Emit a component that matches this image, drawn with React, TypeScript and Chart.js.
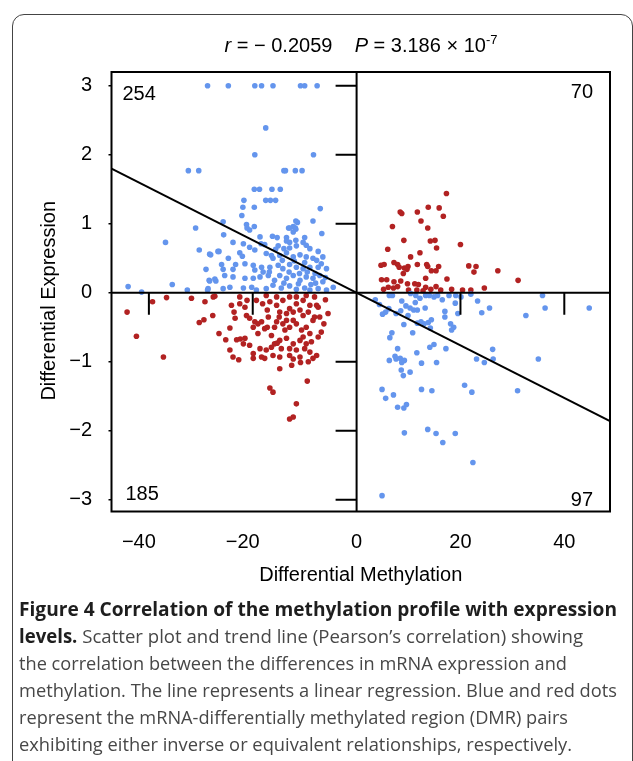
import React, { useEffect, useRef } from "react";
import { Chart, registerables } from "chart.js";

Chart.register(...registerables);

// ---------------- data ----------------
const xTicks = [-40, -20, 0, 20, 40];
const yTicks = [-3, -2, -1, 0, 1, 2, 3];
const xRange = [-47.2, 48.8];
const yRange = [-3.17, 3.2];
const quadrantCounts = ["254", "70", "185", "97"];
const regressionX = [-47.2, 48.8];
const regressionY = [1.8, -1.86];
const statR = "\u2212 0.2059";
const statP = "3.186 \u00d7 10";
const statPExp = "-7";
const xTitle = "Differential Methylation";
const yTitle = "Differential Expression";

// inverse relationship (blue), hypomethylated & up-regulated
const blueUpperLeft: [number, number][] = [
  [-28.7, 3], [-24.7, 3], [-19.6, 3], [-18.3, 3], [-16.1, 3], [-10.8, 3], [-10.0, 3], [-7.6, 3],
  [-17.5, 2.39], [-19.6, 2.0], [-8.3, 2.0],
  [-32.4, 1.77], [-30.4, 1.77], [-14.0, 1.77], [-13.7, 1.77], [-11.8, 1.77], [-10.5, 1.77],
  [-19.7, 1.5], [-18.7, 1.5], [-16.3, 1.5], [-14.7, 1.5],
  [-21.7, 1.34], [-17.5, 1.34], [-16.6, 1.34], [-15.6, 1.34],
  [-21.9, 1.24], [-19.7, 1.24], [-7.0, 1.22], [-22.1, 1.12],
  [-25.7, 1.03], [-8.4, 1.04], [-11.7, 1.04], [-11.4, 1.02],
  [-21.2, 0.99], [-19.7, 0.96], [-21.1, 0.94], [-13.1, 0.94], [-11.8, 0.94], [-12.2, 0.96], [-31.0, 0.94],
  [-25.6, 0.84], [-20.6, 0.91], [-12.9, 0.94], [-11.7, 0.92], [-12.2, 0.88], [-6.7, 0.86],
  [-18.6, 0.81], [-16.2, 0.82], [-15.3, 0.8], [-13.5, 0.8], [-11.7, 0.76], [-10.0, 0.8], [-10.3, 0.73], [-12.9, 0.73], [-13.5, 0.75],
  [-23.8, 0.73], [-21.8, 0.71], [-20.6, 0.66], [-18.4, 0.71], [-17.7, 0.7], [-15.1, 0.68], [-15.6, 0.63], [-14.0, 0.64],
  [-12.9, 0.65], [-11.6, 0.68], [-9.7, 0.69], [-9.0, 0.64], [-7.4, 0.6], [-6.5, 0.52],
  [-30.3, 0.62], [-28.1, 0.55], [-26.5, 0.6], [-24.7, 0.5], [-22.5, 0.58], [-22.0, 0.53], [-19.6, 0.62], [-17.4, 0.57],
  [-16.4, 0.54], [-16.1, 0.5], [-14.8, 0.54], [-13.5, 0.58], [-12.2, 0.52], [-10.9, 0.55], [-9.7, 0.52], [-8.4, 0.5], [-7.7, 0.47],
  [-29.0, 0.34], [-26.0, 0.41], [-25.7, 0.34], [-23.8, 0.34], [-23.3, 0.41], [-21.5, 0.42], [-19.9, 0.4], [-18.3, 0.37],
  [-19.6, 0.33], [-18.0, 0.3], [-16.7, 0.37], [-15.1, 0.4], [-14.2, 0.35], [-12.9, 0.41], [-11.6, 0.37], [-10.3, 0.35],
  [-9.0, 0.37], [-7.4, 0.37], [-5.8, 0.35],
  [-28.4, 0.18], [-27.3, 0.2], [-25.4, 0.25], [-23.8, 0.23], [-21.5, 0.21], [-19.9, 0.21], [-18.6, 0.23], [-17.0, 0.25],
  [-15.8, 0.18], [-14.8, 0.25], [-13.5, 0.21], [-12.2, 0.25], [-10.9, 0.18], [-9.7, 0.23], [-8.4, 0.21], [-7.1, 0.25], [-6.5, 0.16],
  [-28.6, 0.06], [-25.7, 0.06], [-24.4, 0.08], [-21.8, 0.07], [-20.2, 0.08], [-19.3, 0.04], [-17.4, 0.06], [-16.1, 0.11],
  [-14.5, 0.07], [-12.9, 0.1], [-11.6, 0.05], [-10.0, 0.07], [-9.0, 0.04], [-7.4, 0.06], [-5.8, 0.04], [-4.5, 0.08],
  [-44.0, 0.09], [-41.4, 0.01], [-35.5, 0.12], [-36.8, 0.73], [-32.6, 0.04], [-28.7, 0.04], [-28.3, 0.56], [-26.7, 0.6],
  [-28.3, 0.17], [-27.1, 0.17],
  [-13.0, 0.3], [-11.0, 0.28], [-9.5, 0.3], [-8.0, 0.28], [-6.8, 0.42], [-14.0, 0.14], [-11.2, 0.13], [-8.8, 0.12],
  [-6.0, 0.22], [-16.8, 0.3], [-10.0, 0.44], [-12.0, 0.46], [-14.3, 0.47], [-7.9, 0.14],
];

// inverse relationship (blue), hypermethylated & down-regulated
const blueLowerRight: [number, number][] = [
  [6.3, -0.04], [6.9, -0.04], [10.4, -0.01], [11.4, -0.04], [13.3, -0.04], [14.0, -0.04], [14.9, -0.06], [15.6, -0.04],
  [17.8, -0.04], [19.1, -0.04], [20.1, -0.06],
  [8.7, -0.12], [11.3, -0.14], [19.0, -0.15], [23.3, -0.12], [25.6, -0.22], [24.1, -0.29], [19.5, -0.3], [17.0, -0.27],
  [17.0, -0.35], [13.2, -0.22],
  [9.5, -0.19], [10.3, -0.22], [11.0, -0.25], [11.7, -0.25], [6.2, -0.23], [5.6, -0.28], [5.0, -0.31], [8.5, -0.26],
  [9.9, -0.33], [7.6, -0.3],
  [9.1, -0.46], [10.8, -0.58], [11.7, -0.44], [12.4, -0.42], [13.0, -0.45], [13.8, -0.43], [14.4, -0.39], [14.2, -0.51],
  [18.1, -0.45], [18.7, -0.5], [18.3, -0.54],
  [6.8, -0.58], [6.4, -0.65], [7.9, -0.81], [11.6, -0.87], [14.1, -0.79], [14.9, -0.75], [17.2, -0.81],
  [6.3, -0.98], [7.4, -0.92], [7.6, -0.96], [8.4, -0.95], [9.2, -0.98], [8.7, -1.01], [12.5, -1.02], [15.4, -1.01],
  [8.6, -1.12], [9.0, -1.2], [10.3, -1.15], [4.9, -1.4], [5.6, -1.53], [7.1, -1.48], [12.5, -1.4], [14.5, -1.42],
  [20.8, -1.34], [22.2, -1.44],
  [23.1, -0.96], [24.6, -1.01], [26.2, -0.82], [26.3, -0.96],
  [35.8, -0.04], [36.3, -0.22], [44.8, -0.22], [32.6, -0.33], [35.0, -0.96], [31.0, -1.42],
  [9.2, -2.03], [13.7, -1.98], [15.3, -2.04], [16.6, -2.17], [19.0, -2.04], [22.4, -2.46], [4.9, -2.94],
  [7.9, -1.66], [9.1, -1.67], [9.6, -1.62],
  [3.6, -0.1], [4.4, -0.17], [12.2, -0.08], [16.5, -0.1], [22.0, -0.02],
];

// equivalent relationship (red), hypermethylated & up-regulated
const redUpperRight: [number, number][] = [
  [17.3, 1.44], [13.8, 1.24], [15.9, 1.23], [8.4, 1.17], [8.7, 1.15], [11.7, 1.17], [16.7, 1.11], [6.9, 0.96],
  [12.4, 1.04], [13.7, 0.94], [9.1, 0.76], [14.2, 0.75], [15.1, 0.76], [15.4, 0.65], [6.0, 0.63], [20.0, 0.7],
  [12.2, 0.58], [10.4, 0.52],
  [4.7, 0.4], [5.3, 0.41], [7.2, 0.44], [7.9, 0.41], [8.2, 0.37], [9.2, 0.36], [9.9, 0.38], [9.7, 0.34], [9.0, 0.28],
  [11.7, 0.41], [13.5, 0.41], [13.7, 0.38], [15.8, 0.38], [14.4, 0.32], [15.3, 0.32], [21.6, 0.39], [23.0, 0.38],
  [22.6, 0.3], [27.2, 0.32],
  [4.8, 0.19], [5.8, 0.19], [7.2, 0.16], [8.5, 0.17], [9.8, 0.13], [11.2, 0.13], [11.9, 0.12], [13.3, 0.21],
  [15.3, 0.09], [17.4, 0.2], [6.1, 0.08], [7.1, 0.07], [7.9, 0.09], [11.6, 0.04], [13.3, 0.08], [14.3, 0.05],
  [18.3, 0.05], [20.4, 0.04], [22.0, 0.04], [24.6, 0.07], [31.1, 0.18],
  [10.0, 0.04], [12.8, 0.03], [16.2, 0.04], [5.2, 0.05],
];

// equivalent relationship (red), hypomethylated & down-regulated
const redLowerLeft: [number, number][] = [
  [-31.8, -0.08], [-29.2, -0.13], [-27.6, -0.06], [-27.7, -0.33], [-30.3, -0.43], [-29.4, -0.39], [-26.5, -0.59],
  [-25.2, -0.68], [-24.4, -0.51], [-24.1, -0.18], [-23.6, -0.28], [-23.4, -0.37], [-23.1, -0.68], [-22.4, -0.67], [-21.8, -0.74],
  [-21.5, -0.21], [-21.2, -0.33], [-20.6, -0.37], [-21.1, -0.11], [-19.6, -0.42], [-19.9, -0.5], [-19.0, -0.45],
  [-18.3, -0.42], [-19.0, -0.59], [-17.7, -0.52], [-18.1, -0.16], [-17.2, -0.25], [-17.0, -0.35], [-17.2, -0.5],
  [-16.4, -0.62], [-15.8, -0.5], [-15.4, -0.42], [-14.9, -0.35], [-14.2, -0.45], [-13.8, -0.54], [-13.5, -0.4],
  [-12.9, -0.5], [-12.2, -0.4], [-11.6, -0.45], [-10.6, -0.54], [-10.3, -0.64], [-9.7, -0.5], [-9.0, -0.59],
  [-8.4, -0.4], [-8.1, -0.35], [-7.1, -0.35], [-6.8, -0.57], [-7.4, -0.64], [-8.7, -0.71], [-9.7, -0.74],
  [-10.9, -0.69], [-12.2, -0.74], [-13.5, -0.66], [-14.8, -0.69], [-15.8, -0.74], [-16.4, -0.79], [-17.4, -0.83],
  [-18.6, -0.81], [-19.9, -0.88], [-20.6, -0.76], [-21.5, -0.66],
  [-22.5, -0.06], [-22.5, -0.16], [-19.3, -0.11], [-16.7, -0.13], [-15.4, -0.18], [-14.2, -0.11], [-12.9, -0.23],
  [-11.6, -0.16], [-10.9, -0.25], [-10.3, -0.11], [-9.0, -0.18], [-8.1, -0.06], [-7.4, -0.21], [-12.9, -0.06],
  [-15.4, -0.06], [-17.4, -0.04], [-11.6, -0.06], [-9.7, -0.04], [-7.7, -0.18], [-14.8, -0.28], [-13.5, -0.3],
  [-12.2, -0.28], [-10.3, -0.33], [-9.3, -0.28],
  [-15.3, -0.73], [-14.5, -0.81], [-12.9, -0.81], [-11.6, -0.83], [-10.0, -0.81], [-9.0, -0.86], [-7.7, -0.91],
  [-24.4, -0.83], [-23.8, -0.93], [-16.1, -0.91], [-18.3, -0.93], [-14.8, -0.93], [-10.9, -0.93], [-12.9, -0.91],
  [-22.7, -0.97], [-19.9, -0.95], [-17.7, -0.95], [-14.8, -1.1], [-12.5, -1.05], [-12.2, -0.96], [-10.8, -1.01],
  [-9.3, -1.0], [-8.4, -0.95], [-9.5, -1.28], [-16.7, -1.38], [-16.1, -1.44], [-11.6, -1.61], [-12.9, -1.83], [-12.2, -1.8],
  [-44.2, -0.28], [-42.4, -0.63], [-39.3, -0.13], [-37.2, -0.93], [-36.6, -0.07], [-27.3, -0.05],
  [-6.0, -0.1], [-5.5, -0.3], [-6.3, -0.45],
];

const captionLines = [
  { bold: "Figure 4 Correlation of the methylation profile with expression", text: "" },
  { bold: "levels.", text: " Scatter plot and trend line (Pearson\u2019s correlation) showing" },
  { bold: "", text: "the correlation between the differences in mRNA expression and" },
  { bold: "", text: "methylation. The line represents a linear regression. Blue and red dots" },
  { bold: "", text: "represent the mRNA-differentially methylated region (DMR) pairs" },
  { bold: "", text: "exhibiting either inverse or equivalent relationships, respectively." },
];

// ---------------- styling / layout ----------------
const FONT = "'Liberation Sans', Arial, Helvetica, sans-serif";
const BLUE = "#6495ED";
const RED = "#B22222";
const captionWidths = [598, 564, 548, 598, 549, 553];

const toPts = (arr: [number, number][]) => arr.map(([x, y]) => ({ x, y }));
const fmt = (v: number) => (v < 0 ? "\u2212" + Math.abs(v) : String(v));

const axesPlugin = {
  id: "centerAxes",
  afterDatasetsDraw(chart: any) {
    const { ctx, chartArea: a, scales } = chart;
    const xs = scales.x;
    const ys = scales.y;
    const x0 = xs.getPixelForValue(0);
    const y0 = ys.getPixelForValue(0);
    ctx.save();
    ctx.strokeStyle = "#000";
    ctx.lineWidth = 2;
    ctx.beginPath();
    ctx.moveTo(x0, a.top);
    ctx.lineTo(x0, a.bottom);
    ctx.moveTo(a.left, y0);
    ctx.lineTo(a.right, y0);
    for (const t of yTicks) {
      const py = ys.getPixelForValue(t);
      ctx.moveTo(x0 - 21, py);
      ctx.lineTo(x0, py);
    }
    for (const t of xTicks) {
      const px = xs.getPixelForValue(t);
      ctx.moveTo(px, y0);
      ctx.lineTo(px, y0 + 22);
    }
    ctx.stroke();
    ctx.strokeRect(a.left, a.top, a.right - a.left, a.bottom - a.top);
    ctx.fillStyle = "#000";
    ctx.font = `20px ${FONT}`;
    ctx.textBaseline = "alphabetic";
    ctx.textAlign = "left";
    ctx.fillText(quadrantCounts[0], a.left + 11, a.top + 28);
    ctx.textAlign = "right";
    ctx.fillText(quadrantCounts[1], a.right - 17, a.top + 26);
    ctx.textAlign = "left";
    ctx.fillText(quadrantCounts[2], a.left + 14, a.bottom - 12);
    ctx.textAlign = "right";
    ctx.fillText(quadrantCounts[3], a.right - 17, a.bottom - 6);
    ctx.restore();
  },
};

export default function App() {
  const canvasRef = useRef<HTMLCanvasElement | null>(null);
  const lineRefs = useRef<(HTMLDivElement | null)[]>([]);

  useEffect(() => {
    const canvas = canvasRef.current;
    if (!canvas) return;
    const pointDs = (data: [number, number][], color: string) => ({
      type: "scatter" as const,
      data: toPts(data),
      backgroundColor: color,
      borderWidth: 0,
      pointRadius: 2.8,
      pointHoverRadius: 2.8,
      order: 1,
    });
    const chart = new Chart(canvas, {
      type: "scatter",
      data: {
        datasets: [
          {
            type: "line",
            data: regressionX.map((x, i) => ({ x, y: regressionY[i] })),
            borderColor: "#000",
            borderWidth: 2,
            pointRadius: 0,
            fill: false,
            order: 0,
          } as any,
          pointDs(blueUpperLeft, BLUE),
          pointDs(blueLowerRight, BLUE),
          pointDs(redUpperRight, RED),
          pointDs(redLowerLeft, RED),
        ],
      },
      options: {
        animation: false,
        responsive: false,
        events: [],
        layout: { padding: { left: 0, right: 23, top: 72, bottom: 0 } },
        plugins: { legend: { display: false }, tooltip: { enabled: false } },
        scales: {
          x: {
            type: "linear",
            min: xRange[0],
            max: xRange[1],
            afterBuildTicks: (s: any) => {
              s.ticks = xTicks.map((v) => ({ value: v }));
            },
            afterFit: (s: any) => {
              s.height = 88.5;
            },
            grid: { display: false, drawTicks: false },
            border: { display: false },
            ticks: {
              padding: 19,
              color: "#000",
              font: { family: FONT, size: 20 },
              maxRotation: 0,
              callback: (v: any) => (v < 0 ? fmt(v) + "\u2003" : fmt(v)),
            },
            title: {
              display: true,
              text: xTitle,
              color: "#000",
              font: { family: FONT, size: 20 },
              padding: { top: 0, bottom: 13 },
            },
          },
          y: {
            type: "linear",
            min: yRange[0],
            max: yRange[1],
            afterBuildTicks: (s: any) => {
              s.ticks = yTicks.map((v) => ({ value: v }));
            },
            afterFit: (s: any) => {
              s.width = 111.5;
            },
            grid: {
              display: true,
              drawOnChartArea: false,
              drawTicks: true,
              tickLength: 3,
              color: "#000",
              lineWidth: 1.5,
            },
            border: { display: false },
            ticks: {
              padding: 16.5,
              color: "#000",
              font: { family: FONT, size: 20 },
              callback: (v: any) => fmt(v),
            },
            title: {
              display: true,
              text: yTitle + "\u2002\u2009\u2009",
              color: "#000",
              font: { family: FONT, size: 20 },
              padding: { top: 37.5, bottom: 0 },
            },
          },
        },
      },
      plugins: [axesPlugin],
    } as any);

    const fit = () => {
      lineRefs.current.forEach((el, i) => {
        if (!el) return;
        el.style.transform = "none";
        const w = el.getBoundingClientRect().width;
        if (w > 0) el.style.transform = `scaleX(${captionWidths[i] / w})`;
      });
    };
    fit();
    (document as any).fonts?.ready?.then(fit);

    return () => chart.destroy();
  }, []);

  return (
    <div
      style={{
        position: "absolute",
        left: 0,
        top: 0,
        width: 633,
        height: 761,
        overflow: "hidden",
        background: "#fff",
      }}
    >
      <div
        style={{
          position: "absolute",
          left: 12,
          top: 14,
          width: 621,
          height: 800,
          boxSizing: "border-box",
          border: "1.5px solid #444",
          borderRadius: 12,
        }}
      />
      <canvas
        ref={canvasRef}
        width={633}
        height={600}
        style={{ position: "absolute", left: 0, top: 0, width: 633, height: 600 }}
      />
      <div
        style={{
          position: "absolute",
          left: 161,
          top: 33,
          width: 400,
          textAlign: "center",
          fontFamily: FONT,
          fontSize: 20,
          lineHeight: "24px",
          color: "#000",
          whiteSpace: "nowrap",
        }}
      >
        <i>r</i> = {statR}
        {"\u00a0\u00a0\u00a0\u00a0"}
        <i>P</i> = {statP}
        <span style={{ fontSize: 13, position: "relative", top: -8 }}>{statPExp}</span>
      </div>
      <div
        style={{
          position: "absolute",
          left: 19,
          top: 596,
          fontFamily: "'Open Sans', 'Noto Sans', sans-serif",
          fontSize: 19,
          lineHeight: "27px",
          color: "#474747",
        }}
      >
        {captionLines.map((ln, i) => (
          <div key={i} style={{ height: 27 }}>
            <div
              ref={(el) => {
                lineRefs.current[i] = el;
              }}
              style={{ display: "inline-block", whiteSpace: "nowrap", transformOrigin: "0 0" }}
            >
              {ln.bold && <span style={{ fontWeight: 700, color: "#1e1e1e" }}>{ln.bold}</span>}
              {ln.text}
            </div>
          </div>
        ))}
      </div>
    </div>
  );
}
